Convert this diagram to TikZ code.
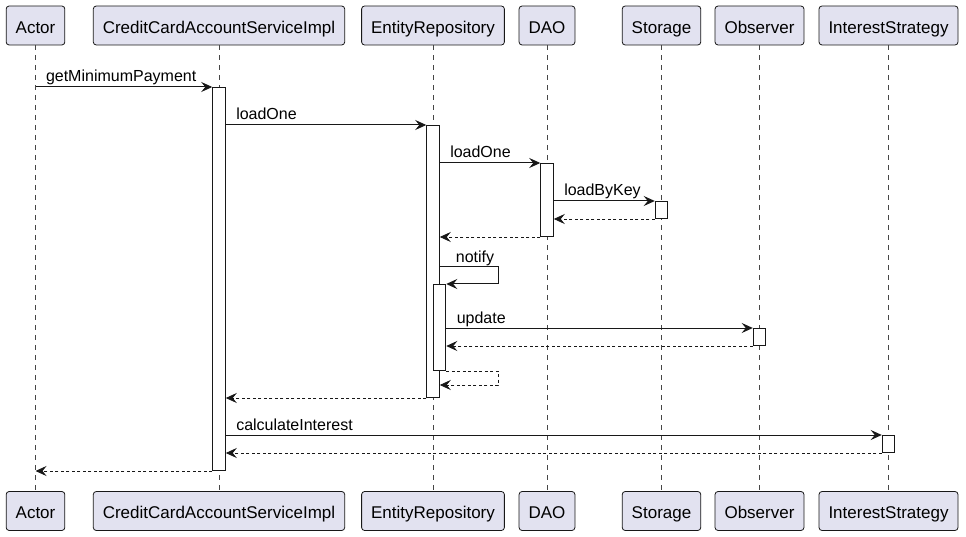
\documentclass[tikz,border=0pt]{standalone}
\usepackage{fontspec}
\setmainfont{Liberation Sans}
\usepackage{xcolor}
\usepackage{tikz}
\usetikzlibrary{calc}
\usetikzlibrary{arrows.meta}
\usetikzlibrary{positioning}

\definecolor{partfill}{HTML}{E2E2F0}
\definecolor{partline}{HTML}{181818}

\begin{document}
\begin{tikzpicture}[x=1pt,y=-1pt]
% 1 = 1px of the reference
    \def\YTOP{25.5}
    \def\YBOT{511}
    \def\ACTW{12.5pt} %width of activations

    \def\XACTOR{35.5}
    \def\XCC{219}
    \def\XER{433}
    \def\XDAO{547}
    \def\XST{661.5}
    \def\XOB{759.5}
    \def\XIS{888.5}

    \tikzset{
      part/.style={draw=partline,fill=partfill,rounded corners=3pt,
        line width=0.8pt,minimum height=39pt,inner xsep=9.5pt,
        text height=17.5pt,text depth=2pt,
        font=\fontsize{17}{20}\selectfont},
      life/.style={draw=partline!80,line width=0.6pt,dash pattern=on 5pt off 5pt},
      act/.style={draw=partline,fill=white,line width=1pt,anchor=north,
        minimum width=\ACTW,inner sep=0pt},
      msg/.style={-{Stealth[length=11pt,width=10pt,inset=4pt]},
        line width=1pt,color=partline},
      ret/.style={msg,line width=0.9pt,dash pattern=on 3pt off 2.5pt},
      lbl/.style={anchor=base west,inner sep=0pt,xshift=10pt,yshift=5pt,
        font=\fontsize{16}{18}\selectfont,text=black},
    }
    \useasboundingbox (0,0) rectangle (966,537);

    % PARTICIPANTS
    \node[part] (actorT) at (\XACTOR,\YTOP) {Actor};
    \node[part] (ccT) at (\XCC,\YTOP) {CreditCardAccountServiceImpl};
    \node[part] (erT) at (\XER,\YTOP) {EntityRepository};
    \node[part] (daoT) at (\XDAO,\YTOP) {DAO};
    \node[part] (stT) at (\XST,\YTOP) {Storage};
    \node[part] (obT) at (\XOB,\YTOP) {Observer};
    \node[part] (isT) at (\XIS,\YTOP) {InterestStrategy};

    \node[part] (actorB) at (\XACTOR,\YBOT) {Actor};
    \node[part] (ccB) at (\XCC,\YBOT) {CreditCardAccountServiceImpl};
    \node[part] (erB) at (\XER,\YBOT) {EntityRepository};
    \node[part] (daoB) at (\XDAO,\YBOT) {DAO};
    \node[part] (stB) at (\XST,\YBOT) {Storage};
    \node[part] (obB) at (\XOB,\YBOT) {Observer};
    \node[part] (isB) at (\XIS,\YBOT) {InterestStrategy};

    % LIFELINES
    \foreach \p in {actor,cc,er,dao,st,ob,is}
        \draw[life] (\p T.south) -- (\p B.north);

    % ACTIVATIONS
    \node[act,minimum height=383pt] (aCC) at (\XCC,87) {};
    \node[act,minimum height=272pt] (aER) at (\XER,125) {};
    \node[act,minimum height=73pt] (aDAO) at (\XDAO,163) {};
    \node[act,minimum height=17pt] (aST) at (\XST,201) {};
    \node[act,minimum height=86pt] (aERtwo) at (\XER+6.5,284) {};
    \node[act,minimum height=17pt] (aOB) at (\XOB,328) {};
    \node[act,minimum height=17pt] (aIS) at (\XIS,435) {};

    % CALLS
    \draw[msg] (actorT |- aCC.north) -- (aCC.north west)
        node[lbl] at (actorT |- aCC.north) {getMinimumPayment};
    \draw[msg] (aCC.east |- aER.north) -- (aER.north west)
        node[lbl] at (aCC.east |- aER.north) {loadOne};
    \draw[msg] (aER.east |- aDAO.north) -- (aDAO.north west)
        node[lbl] at (aER.east |- aDAO.north) {loadOne};
    \draw[msg] (aDAO.east |- aST.north) -- (aST.north west)
        node[lbl] at (aDAO.east |- aST.north) {loadByKey};
    \draw[ret] (aST.south west) -- (aDAO.east |- aST.south);
    \draw[ret] (aDAO.south west) -- (aER.east |- aDAO.south);

    % SELF CALL (NOTIFY)
    \coordinate (nf) at (aER.east |- 0,267);
    \draw[msg] (nf) -- ++(59,0) |- (aERtwo.north east);
    \node[lbl,xshift=6pt] at (nf) {notify};

    \draw[msg] (aERtwo.east |- aOB.north) -- (aOB.north west)
        node[lbl] at (aERtwo.east |- aOB.north) {update};
    \draw[ret] (aOB.south west) -- (aERtwo.east |- aOB.south);

    % SELF RETURN
    \coordinate (nr) at (aER.east |- 0,385);
    \draw[ret] (aERtwo.south east) -- ++(52,0) |- (nr);

    \draw[ret] (aER.south west) -- (aCC.east |- aER.south);

    % INTEREST
    \draw[msg] (aCC.east |- aIS.north) -- (aIS.north west)
        node[lbl] at (aCC.east |- aIS.north) {calculateInterest};
    \draw[ret] (aIS.south west) -- (aCC.east |- aIS.south);
    \draw[ret] (aCC.south west) -- (actorT |- aCC.south);

\end{tikzpicture}
\end{document}
